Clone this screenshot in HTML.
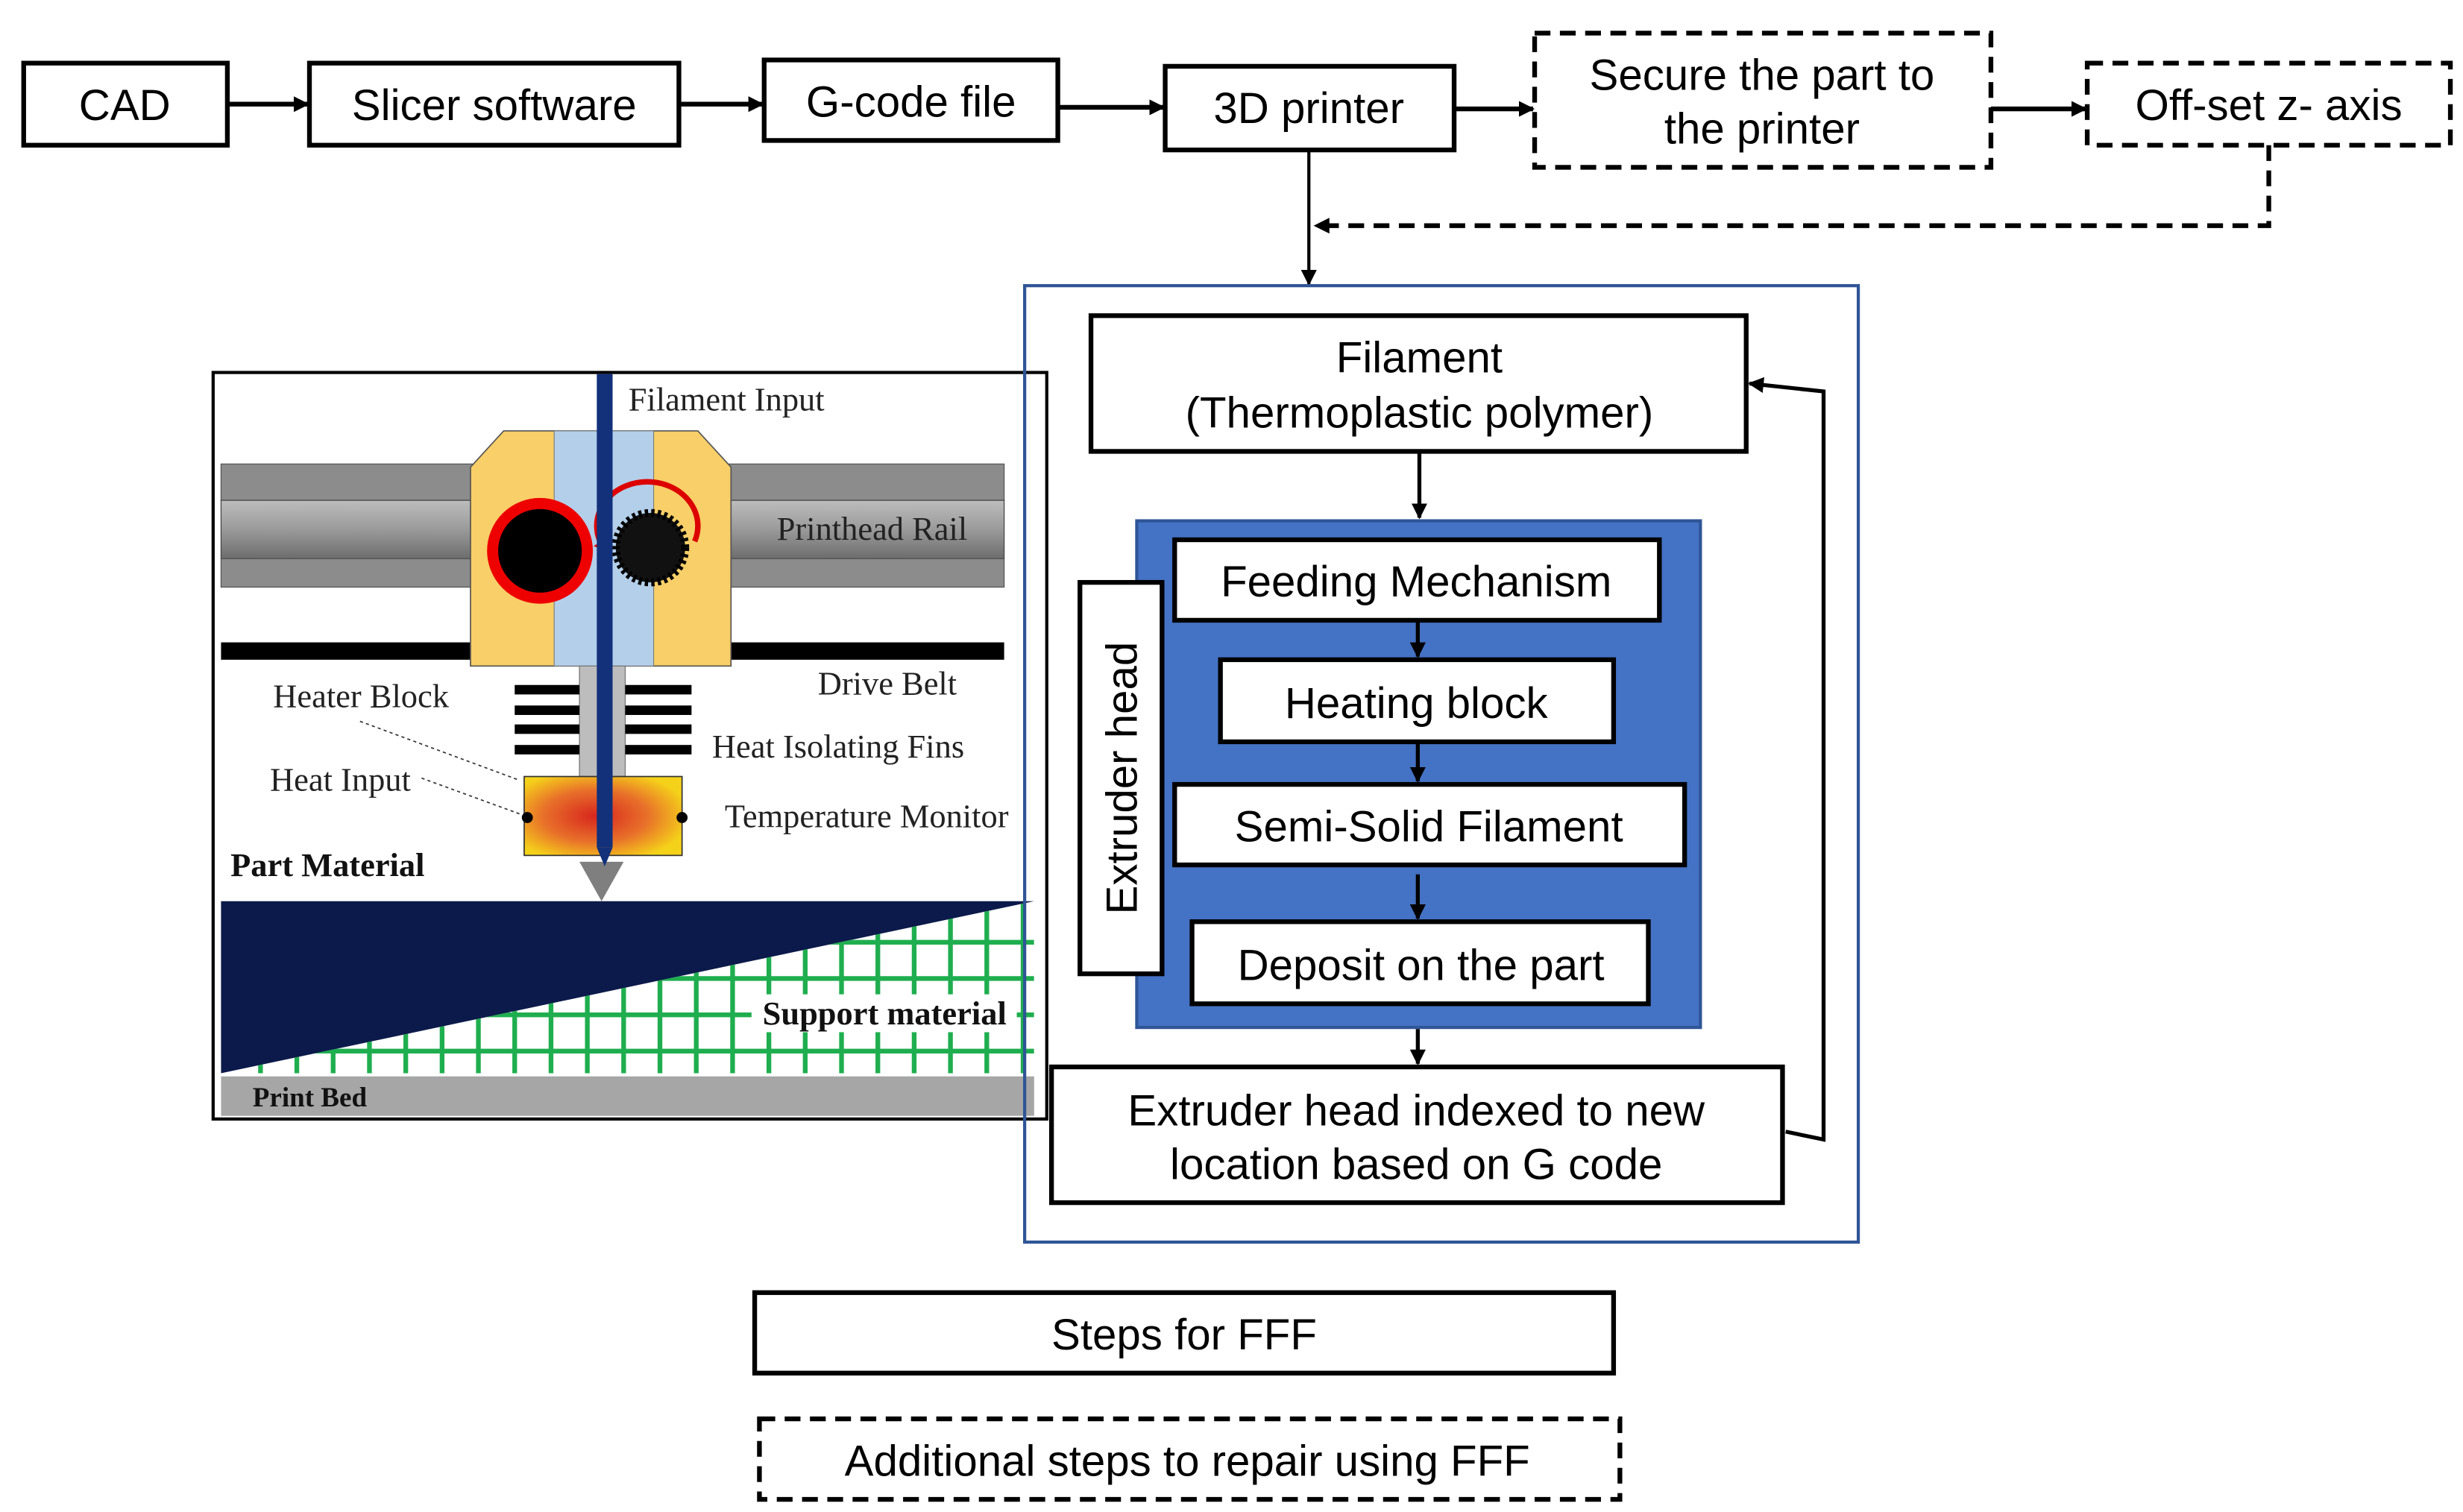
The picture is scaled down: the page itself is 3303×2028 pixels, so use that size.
<!DOCTYPE html>
<html><head><meta charset="utf-8">
<style>
html,body{margin:0;padding:0;background:#fff;}
svg{display:block;}
.s{font-family:"Liberation Sans",Arial,sans-serif;font-size:27.5px;fill:#000;text-anchor:middle;}
.r{font-family:"Liberation Serif",serif;font-size:21px;fill:#222;}
.rb{font-family:"Liberation Serif",serif;font-size:21px;font-weight:bold;fill:#111;}
</style></head><body>
<svg width="3303" height="2028" viewBox="0 0 1560 958" preserveAspectRatio="none" xmlns="http://www.w3.org/2000/svg">
<defs>
<marker id="a" markerWidth="10" markerHeight="10" refX="9" refY="5" orient="auto" markerUnits="userSpaceOnUse">
<path d="M0,0 L10,5 L0,10 z" fill="#000"/></marker>
<linearGradient id="rail" x1="0" y1="0" x2="0" y2="1">
<stop offset="0" stop-color="#bdbdbd"/><stop offset="0.5" stop-color="#9a9a9a"/><stop offset="1" stop-color="#6d6d6d"/></linearGradient>
<radialGradient id="heat" cx="0.45" cy="0.5" r="0.6">
<stop offset="0" stop-color="#d7261e"/><stop offset="0.55" stop-color="#e8702a"/><stop offset="1" stop-color="#f5d21a"/></radialGradient>
<clipPath id="sup"><polygon points="140,680 655,571 655,680"/></clipPath>
</defs>

<g fill="#fff" stroke="#000" stroke-width="3">
<rect x="15" y="40" width="129" height="52"/>
<rect x="196" y="40" width="234" height="52"/>
<rect x="484" y="38" width="186" height="51"/>
<rect x="738" y="42" width="183" height="53"/>
</g>
<g fill="#fff" stroke="#000" stroke-width="3" stroke-dasharray="10,6">
<rect x="972" y="21" width="289" height="85"/>
<rect x="1322" y="40" width="230" height="52"/>
<rect x="481" y="899" width="545" height="51"/>
</g>
<text class="s" x="79" y="76">CAD</text>
<text class="s" x="313" y="76">Slicer software</text>
<text class="s" x="577" y="74">G-code file</text>
<text class="s" x="829" y="78">3D printer</text>
<text class="s" x="1116" y="57">Secure the part to</text>
<text class="s" x="1116" y="91">the printer</text>
<text class="s" x="1437" y="76">Off-set z- axis</text>

<g stroke="#000" stroke-width="3" fill="none" marker-end="url(#a)">
<line x1="144" y1="66" x2="195" y2="66"/>
<line x1="430" y1="66" x2="483" y2="66"/>
<line x1="670" y1="68" x2="737" y2="68"/>
<line x1="921" y1="69" x2="971" y2="69"/>
<line x1="1261" y1="69" x2="1321" y2="69"/>
</g>
<line x1="829" y1="96" x2="829" y2="180" stroke="#000" stroke-width="2" marker-end="url(#a)"/>
<polyline points="1437,92 1437,143 833,143" fill="none" stroke="#000" stroke-width="3" stroke-dasharray="10,6" marker-end="url(#a)"/>

<rect x="135" y="236" width="528" height="473" fill="#fff" stroke="#000" stroke-width="2"/>
<rect x="140" y="294" width="496" height="23" fill="#8c8c8c" stroke="#555" stroke-width="0.6"/>
<rect x="140" y="317" width="496" height="37" fill="url(#rail)" stroke="#444" stroke-width="0.6"/>
<rect x="140" y="354" width="496" height="18" fill="#8c8c8c" stroke="#555" stroke-width="0.6"/>
<rect x="140" y="407" width="496" height="11" fill="#000"/>
<polygon points="319,273 442,273 463,296 463,422 298,422 298,296" fill="#f8cf68" stroke="#555" stroke-width="0.8"/>
<rect x="351" y="273" width="63" height="149" fill="#b4cfea" stroke="#777" stroke-width="0.5"/>
<circle cx="342" cy="349" r="30" fill="#000" stroke="#e00" stroke-width="7"/>
<circle cx="412" cy="347" r="22" fill="#111" stroke="#000" stroke-width="5" stroke-dasharray="2,2"/>
<path d="M380,343 A32,28 0 1 1 440,343" fill="none" stroke="#d00" stroke-width="3.5"/>
<polygon points="376,346 388,338 386,350" fill="#d00"/>
<rect x="367" y="422" width="29" height="70" fill="#bdbdbd" stroke="#777" stroke-width="0.6"/>
<g fill="#000">
<rect x="326" y="434" width="41" height="6"/><rect x="396" y="434" width="42" height="6"/>
<rect x="326" y="447" width="41" height="6"/><rect x="396" y="447" width="42" height="6"/>
<rect x="326" y="459" width="41" height="6"/><rect x="396" y="459" width="42" height="6"/>
<rect x="326" y="472" width="41" height="6"/><rect x="396" y="472" width="42" height="6"/>
</g>
<rect x="332" y="492" width="100" height="50" fill="url(#heat)" stroke="#333" stroke-width="0.8"/>
<circle cx="334" cy="518" r="3.5" fill="#000"/><circle cx="432" cy="518" r="3.5" fill="#000"/>
<polygon points="367,546 395,546 381,571" fill="#7f7f7f"/>
<rect x="378" y="237" width="10" height="300" fill="#13307a"/>
<polygon points="378,537 388,537 383,549" fill="#13307a"/>
<polygon points="140,571 655,571 140,680" fill="#0b1a4a"/>
<g clip-path="url(#sup)" stroke="#1fae4f" stroke-width="3">
<line x1="140" y1="597" x2="655" y2="597"/><line x1="140" y1="620" x2="655" y2="620"/>
<line x1="140" y1="643" x2="655" y2="643"/><line x1="140" y1="666" x2="655" y2="666"/>
<line x1="165" y1="571" x2="165" y2="680"/><line x1="188" y1="571" x2="188" y2="680"/>
<line x1="211" y1="571" x2="211" y2="680"/><line x1="234" y1="571" x2="234" y2="680"/>
<line x1="257" y1="571" x2="257" y2="680"/><line x1="280" y1="571" x2="280" y2="680"/>
<line x1="303" y1="571" x2="303" y2="680"/><line x1="326" y1="571" x2="326" y2="680"/>
<line x1="349" y1="571" x2="349" y2="680"/><line x1="372" y1="571" x2="372" y2="680"/>
<line x1="395" y1="571" x2="395" y2="680"/><line x1="418" y1="571" x2="418" y2="680"/>
<line x1="441" y1="571" x2="441" y2="680"/><line x1="464" y1="571" x2="464" y2="680"/>
<line x1="487" y1="571" x2="487" y2="680"/><line x1="510" y1="571" x2="510" y2="680"/>
<line x1="533" y1="571" x2="533" y2="680"/><line x1="556" y1="571" x2="556" y2="680"/>
<line x1="579" y1="571" x2="579" y2="680"/><line x1="602" y1="571" x2="602" y2="680"/>
<line x1="625" y1="571" x2="625" y2="680"/><line x1="648" y1="571" x2="648" y2="680"/>
</g>
<rect x="476" y="630" width="168" height="24" fill="#fff"/>
<rect x="140" y="682" width="515" height="25" fill="#a6a6a6"/>
<g stroke="#333" stroke-width="0.8" stroke-dasharray="2,2" fill="none">
<line x1="228" y1="457" x2="328" y2="494"/>
<line x1="267" y1="493" x2="330" y2="516"/>
</g>
<text class="r" x="398" y="260">Filament Input</text>
<text class="r" x="492" y="342">Printhead Rail</text>
<text class="r" x="518" y="440">Drive Belt</text>
<text class="r" x="173" y="448">Heater Block</text>
<text class="r" x="451" y="480">Heat Isolating Fins</text>
<text class="r" x="171" y="501">Heat Input</text>
<text class="r" x="459" y="524">Temperature Monitor</text>
<text class="rb" x="146" y="555">Part Material</text>
<text class="rb" x="483" y="649">Support material</text>
<text class="rb" x="160" y="701" style="font-size:17.5px">Print Bed</text>

<rect x="649" y="181" width="528" height="606" fill="none" stroke="#2f5597" stroke-width="2"/>
<rect x="720" y="330" width="357" height="321" fill="#4472c4" stroke="#2f5597" stroke-width="2"/>
<g fill="#fff" stroke="#000" stroke-width="3">
<rect x="691" y="200" width="415" height="86"/>
<rect x="744" y="342" width="307" height="51"/>
<rect x="773" y="418" width="249" height="52"/>
<rect x="744" y="497" width="323" height="51"/>
<rect x="755" y="584" width="289" height="52"/>
<rect x="684" y="369" width="52" height="248"/>
<rect x="666" y="676" width="463" height="86"/>
<rect x="478" y="819" width="544" height="51"/>
</g>
<text class="s" x="899" y="236">Filament</text>
<text class="s" x="899" y="271">(Thermoplastic polymer)</text>
<text class="s" x="897" y="378">Feeding Mechanism</text>
<text class="s" x="897" y="455">Heating block</text>
<text class="s" x="905" y="533">Semi-Solid Filament</text>
<text class="s" x="900" y="621">Deposit on the part</text>
<text class="s" transform="translate(720,493) rotate(-90)">Extruder head</text>
<text class="s" x="897" y="713">Extruder head indexed to new</text>
<text class="s" x="897" y="747">location based on G code</text>
<text class="s" x="750" y="855">Steps for FFF</text>
<text class="s" x="752" y="935">Additional steps to repair using FFF</text>
<g stroke="#000" stroke-width="2.5" fill="none" marker-end="url(#a)">
<line x1="899" y1="287" x2="899" y2="328"/>
<line x1="898" y1="393" x2="898" y2="416"/>
<line x1="898" y1="470" x2="898" y2="495"/>
<line x1="898" y1="554" x2="898" y2="582"/>
<line x1="898" y1="652" x2="898" y2="674"/>
<polyline points="1131,717 1155,722 1155,248 1108,243"/>
</g>
</svg>
</body></html>
